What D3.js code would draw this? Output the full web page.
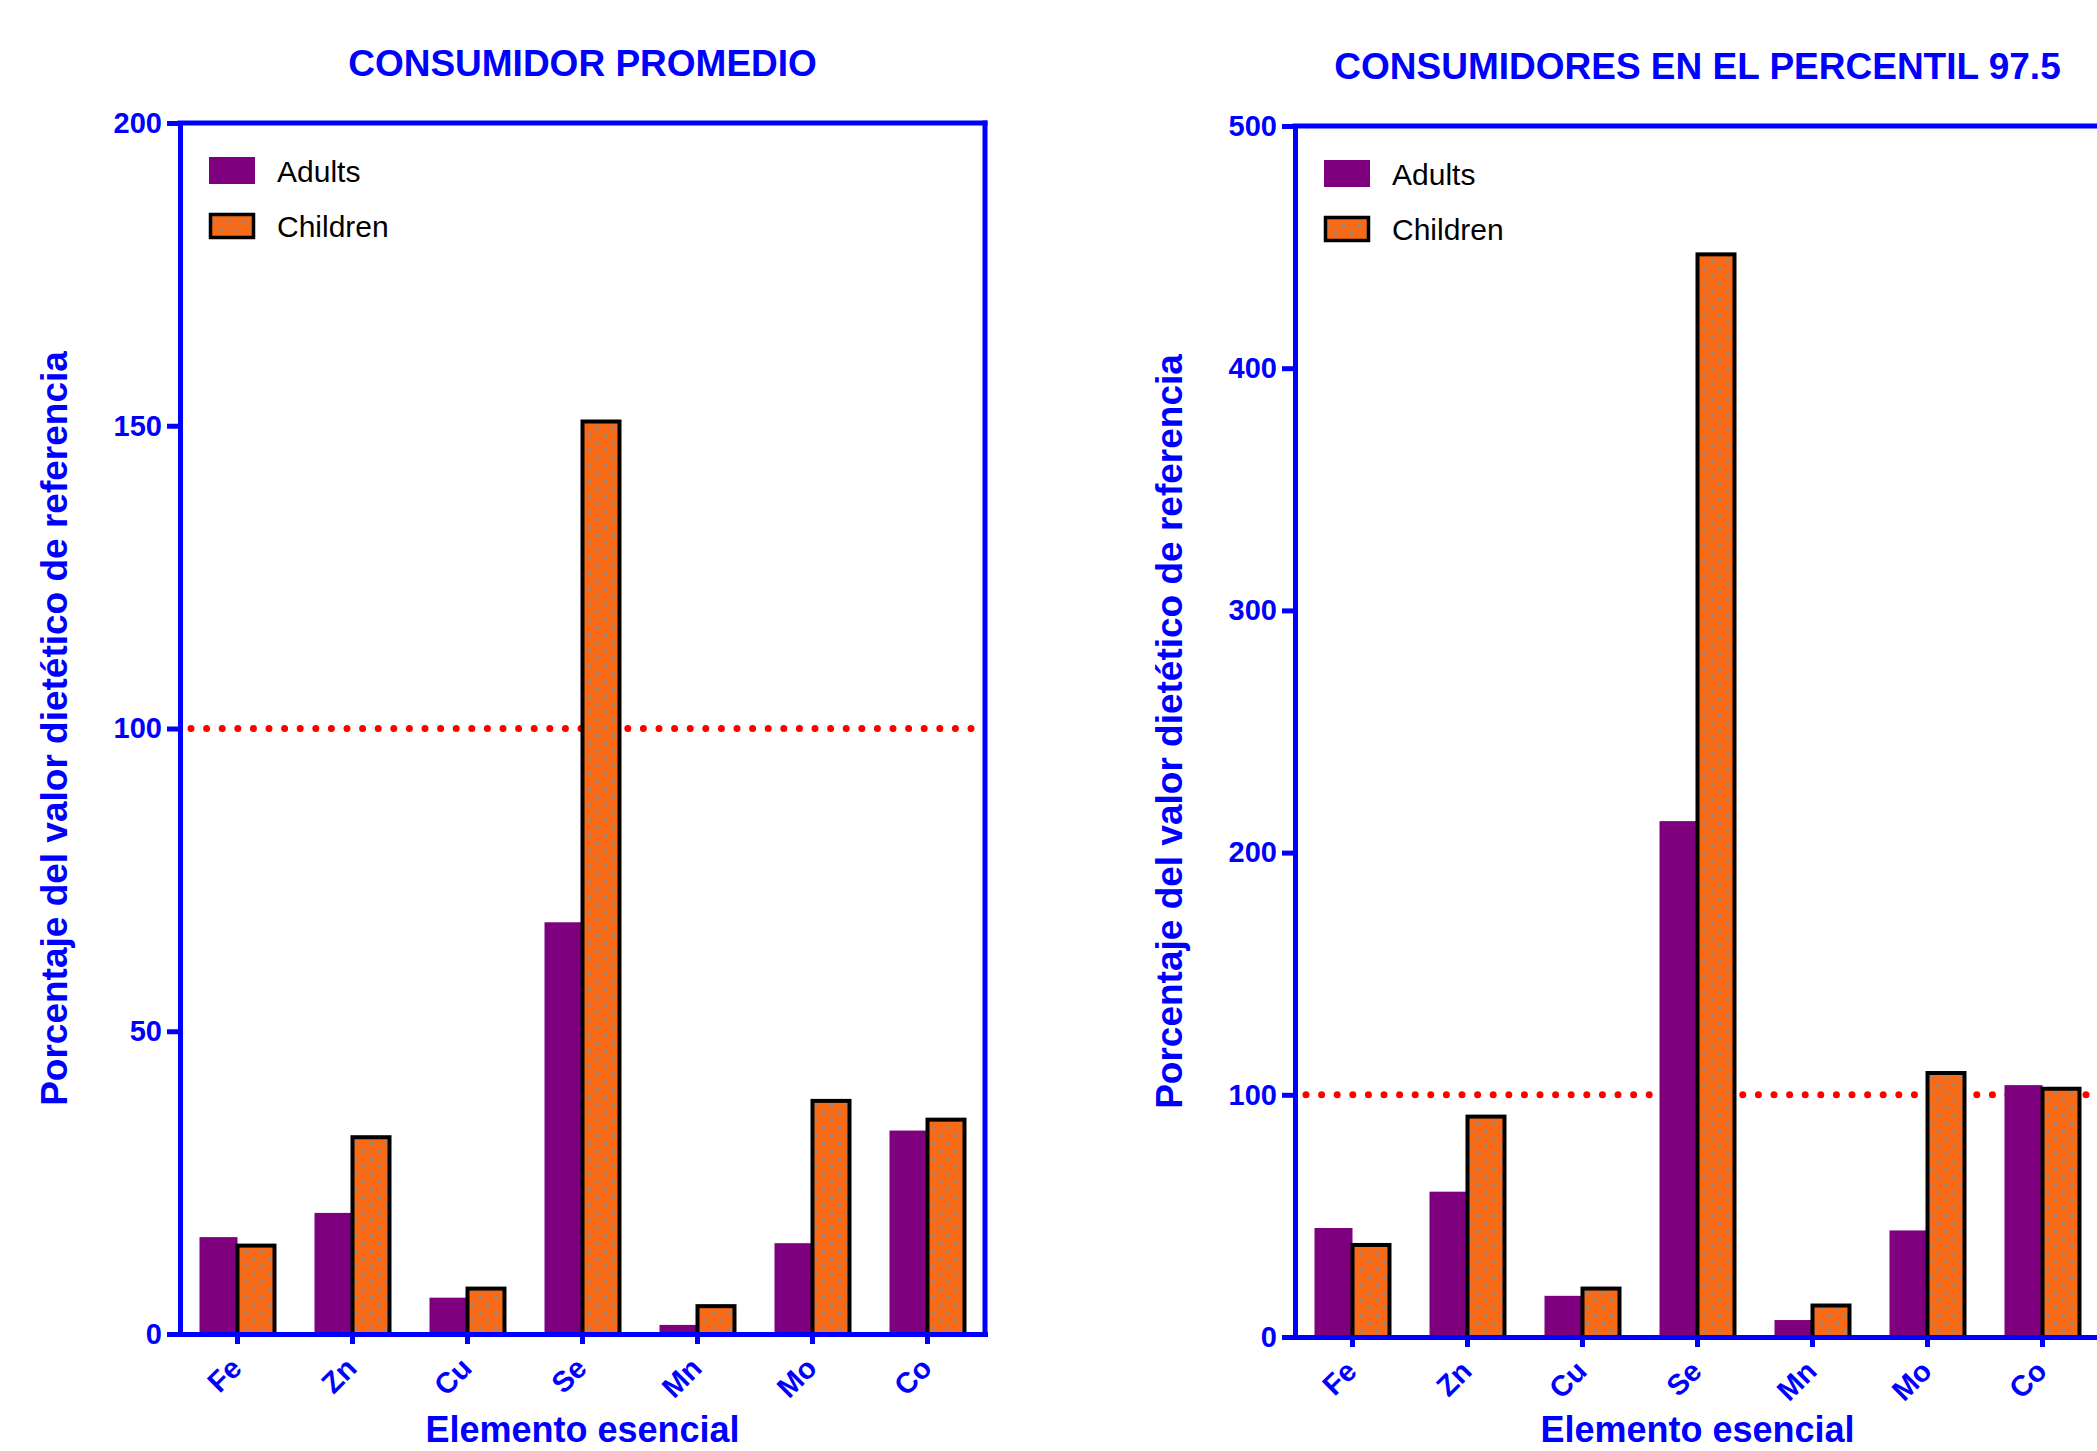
<!DOCTYPE html>
<html>
<head>
<meta charset="utf-8">
<script src="https://cdn.jsdelivr.net/npm/d3@7"></script>
<style>
  html, body { margin: 0; padding: 0; background: #fff; }
  svg { display: block; font-family: "Liberation Sans", Arial, Helvetica, sans-serif; }
</style>
</head>
<body>
<svg id="chart" width="2097" height="1451"></svg>
<script>
// Essential elements on the x axis
const elements = ["Fe", "Zn", "Cu", "Se", "Mn", "Mo", "Co"];

// % of dietary reference value, average consumer
const avgAdults   = [16, 20, 6, 68, 1.5, 15, 33.6];
const avgChildren = [14.6, 32.5, 7.5, 150.7, 4.6, 38.5, 35.4];
const avgTicks    = [0, 50, 100, 150, 200];

// % of dietary reference value, 97.5th percentile consumers
const p97Adults   = [45, 60, 17, 213, 7, 44, 104];
const p97Children = [38, 91, 20, 447, 13, 109, 102.5];
const p97Ticks    = [0, 100, 200, 300, 400, 500];

const seriesNames = ["Adults", "Children"];
const referenceLevel = 100;

const BLUE = "#0000ff";
const PURPLE = "#7f007f";
const ORANGE = "#f86a15";
const DOT = "#8c8c8c";

const svg = d3.select("#chart");
const xTitleBaseline = 1442;

// dotted fill for the children bars
const defs = svg.append("defs");
const pat = defs.append("pattern")
  .attr("id", "dots")
  .attr("patternUnits", "userSpaceOnUse")
  .attr("width", 15.6).attr("height", 15.4);
pat.append("rect").attr("width", 15.6).attr("height", 15.4).attr("fill", ORANGE);
pat.append("rect").attr("x", 2.4).attr("y", 2.4).attr("width", 3.2).attr("height", 3.2).attr("fill", DOT);
pat.append("rect").attr("x", 10.2).attr("y", 10.1).attr("width", 3.2).attr("height", 3.2).attr("fill", DOT);

const panels = [
  { title: "CONSUMIDOR PROMEDIO", adults: avgAdults, children: avgChildren,
    ticks: avgTicks, left: 180, top: 123, width: 805, height: 1211 },
  { title: "CONSUMIDORES EN EL PERCENTIL 97.5", adults: p97Adults, children: p97Children,
    ticks: p97Ticks, left: 1295, top: 126, width: 805, height: 1211 }
];

panels.forEach(p => {
  const g = svg.append("g").attr("transform", `translate(${p.left},${p.top})`);
  const W = p.width, H = p.height;

  const x = d3.scaleBand().domain(elements).range([0, W]).padding(0);
  const y = d3.scaleLinear().domain([0, d3.max(p.ticks)]).range([H, 0]);
  const barW = 38;

  // reference line at 100 %
  g.append("line")
    .attr("x1", 11).attr("x2", W - 5)
    .attr("y1", y(referenceLevel)).attr("y2", y(referenceLevel))
    .attr("stroke", "#ff0000").attr("stroke-width", 7)
    .attr("stroke-linecap", "round")
    .attr("stroke-dasharray", "0 15.6");

  // adult bars
  g.selectAll(".adult").data(elements).join("rect")
    .attr("class", "adult")
    .attr("x", d => x(d) + x.bandwidth() / 2 - barW)
    .attr("width", barW)
    .attr("y", (d, i) => y(p.adults[i]))
    .attr("height", (d, i) => H - y(p.adults[i]))
    .attr("fill", PURPLE);

  // children bars
  g.selectAll(".child").data(elements).join("rect")
    .attr("class", "child")
    .attr("x", d => x(d) + x.bandwidth() / 2)
    .attr("width", barW - 1)
    .attr("y", (d, i) => y(p.children[i]))
    .attr("height", (d, i) => H - y(p.children[i]))
    .attr("fill", "url(#dots)")
    .attr("stroke", "#000").attr("stroke-width", 4);

  // frame: top and right edges
  g.append("line").attr("x1", 0).attr("x2", W).attr("y1", 0).attr("y2", 0)
    .attr("stroke", BLUE).attr("stroke-width", 5).attr("stroke-linecap", "square");
  g.append("line").attr("x1", W).attr("x2", W).attr("y1", 0).attr("y2", H)
    .attr("stroke", BLUE).attr("stroke-width", 5).attr("stroke-linecap", "square");

  // y axis
  const ya = g.append("g")
    .call(d3.axisLeft(y).tickValues(p.ticks).tickSize(13).tickSizeOuter(0).tickPadding(5));
  ya.select(".domain").attr("stroke", BLUE).attr("stroke-width", 5).attr("stroke-linecap", "square");
  ya.selectAll(".tick line").attr("stroke", BLUE).attr("stroke-width", 5);
  ya.selectAll(".tick text")
    .attr("fill", BLUE).attr("font-size", 29).attr("font-weight", "bold")
    .attr("font-family", "Liberation Sans, Arial, sans-serif");

  // x axis
  const xa = g.append("g").attr("transform", `translate(0,${H})`)
    .call(d3.axisBottom(x).tickSize(10).tickSizeOuter(0).tickPadding(0));
  xa.select(".domain").attr("stroke", BLUE).attr("stroke-width", 5).attr("stroke-linecap", "square");
  xa.selectAll(".tick line").attr("stroke", BLUE).attr("stroke-width", 5);
  xa.selectAll(".tick text")
    .attr("fill", BLUE).attr("font-size", 29).attr("font-weight", "bold")
    .attr("font-family", "Liberation Sans, Arial, sans-serif")
    .attr("text-anchor", "end")
    .attr("y", 0).attr("dy", 0)
    .attr("transform", "translate(6,36) rotate(-45)");

  // titles
  g.append("text")
    .attr("x", W / 2).attr("y", -47)
    .attr("text-anchor", "middle")
    .attr("fill", BLUE).attr("font-size", 37).attr("font-weight", "bold")
    .text(p.title);

  g.append("text")
    .attr("transform", `translate(${-113},${H / 2}) rotate(-90)`)
    .attr("text-anchor", "middle")
    .attr("fill", BLUE).attr("font-size", 37).attr("font-weight", "bold")
    .text("Porcentaje del valor dietético de referencia");

  g.append("text")
    .attr("x", W / 2).attr("y", xTitleBaseline - p.top)
    .attr("text-anchor", "middle")
    .attr("fill", BLUE).attr("font-size", 36).attr("font-weight", "bold")
    .text("Elemento esencial");

  // legend
  const lg = g.append("g").attr("transform", "translate(29,34)");
  lg.append("rect").attr("x", 0).attr("y", 0).attr("width", 46).attr("height", 27).attr("fill", PURPLE);
  lg.append("rect").attr("x", 1.5).attr("y", 57.5).attr("width", 43).attr("height", 23)
    .attr("fill", "url(#dots)").attr("stroke", "#000").attr("stroke-width", 3.5);
  lg.selectAll("text").data(seriesNames).join("text")
    .attr("x", 68).attr("y", (d, i) => 25 + i * 55)
    .attr("fill", "#000").attr("font-size", 30)
    .text(d => d);
});
</script>
</body>
</html>
